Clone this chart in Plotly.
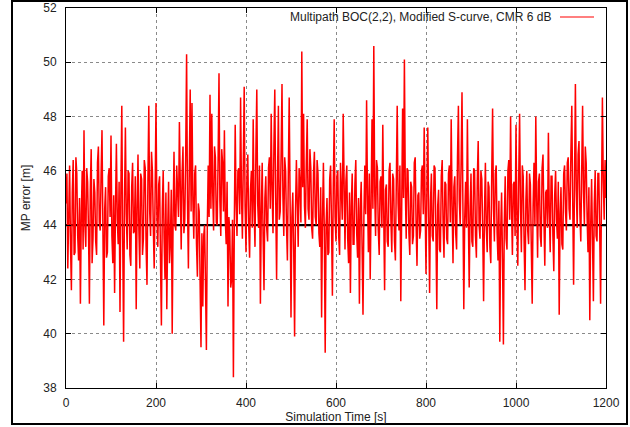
import plotly.graph_objects as go

# Simulation time step of the read-off samples [s]
time_step = 2

# MP error [m] (one value every 2 s, from t=0 to t=1200)
mp_error = [
    44.8, 45.9, 42.4, 44.1, 46.2, 43.3, 41.6, 45.2, 46.4, 42.9, 43.0, 46.5, 45.9, 43.6, 42.7, 45.0, 41.1, 44.4, 46.0, 43.1,
    47.5, 44.0, 43.2, 46.1, 45.6, 43.8, 41.1, 45.3, 46.8, 42.6, 43.5, 45.7, 45.2, 43.4, 42.9, 46.3, 46.9, 44.1, 43.8, 45.9,
    47.5, 43.9, 40.3, 44.6, 45.4, 42.8, 43.0, 45.8, 46.1, 44.3, 47.3, 43.6, 42.6, 45.1, 41.5, 44.7, 47.0, 44.2, 43.3, 45.6,
    40.8, 45.3, 48.4, 43.5, 39.7, 44.9, 47.6, 44.4, 43.1, 46.0, 45.9, 42.9, 42.5, 45.4, 46.3, 43.7, 43.8, 45.8, 40.9, 44.6,
    46.6, 43.8, 42.4, 45.9, 45.7, 42.9, 43.5, 46.4, 46.1, 43.2, 41.8, 45.6, 48.4, 44.5, 43.6, 46.7, 46.0, 43.9, 42.4, 45.1,
    48.5, 44.4, 43.2, 45.5, 45.8, 42.7, 40.3, 44.6, 46.0, 43.5, 42.0, 45.2, 40.9, 43.8, 45.6, 42.6, 43.4, 45.3, 40.0, 44.2,
    46.7, 44.0, 43.8, 46.2, 45.5, 44.3, 47.8, 44.7, 43.1, 45.9, 46.9, 43.7, 44.2, 46.6, 50.3, 44.8, 42.4, 46.1, 49.0, 44.5,
    48.5, 44.9, 43.5, 45.9, 46.2, 43.3, 42.1, 44.8, 44.5, 41.9, 39.5, 43.7, 41.0, 43.6, 44.0, 41.8, 39.4, 43.9, 46.2, 44.3,
    48.8, 44.6, 48.1, 45.2, 43.8, 46.9, 46.5, 44.1, 44.0, 46.4, 49.6, 44.9, 43.6, 46.8, 46.3, 44.5, 47.5, 44.2, 43.3, 45.6,
    41.0, 44.3, 43.8, 41.7, 42.0, 44.2, 38.4, 43.9, 47.7, 44.8, 43.6, 46.0, 46.1, 44.4, 48.7, 45.1, 43.5, 46.3, 49.1, 44.7,
    43.0, 45.7, 46.6, 44.0, 42.8, 45.3, 46.0, 43.9, 47.9, 44.6, 43.2, 46.7, 49.0, 44.8, 43.9, 46.2, 41.1, 44.5, 46.3, 43.6,
    41.6, 45.0, 45.8, 43.9, 43.4, 46.1, 46.5, 44.6, 48.1, 45.3, 43.7, 46.9, 49.0, 45.0, 42.0, 45.7, 48.4, 44.2, 44.5, 46.6,
    49.2, 45.1, 43.6, 46.5, 46.0, 44.0, 42.7, 45.8, 48.7, 44.9, 40.6, 44.3, 45.2, 43.1, 39.9, 44.5, 46.4, 44.8, 43.2, 46.1,
    45.5, 44.1, 50.4, 45.4, 48.1, 44.7, 43.9, 46.3, 47.9, 44.6, 44.2, 46.8, 46.1, 43.9, 43.5, 45.9, 46.7, 44.3, 44.0, 46.4,
    45.9, 43.7, 43.2, 45.4, 40.6, 44.2, 46.3, 43.8, 39.3, 44.0, 45.0, 42.9, 43.0, 45.7, 46.2, 44.1, 41.4, 45.5, 47.9, 44.3,
    43.4, 45.8, 46.0, 43.6, 42.9, 46.3, 45.4, 44.2, 48.1, 44.8, 43.1, 45.6, 46.2, 43.5, 42.6, 45.2, 41.5, 44.7, 45.9, 43.3,
    43.3, 45.5, 46.4, 43.7, 42.8, 45.0, 41.1, 44.6, 45.6, 43.2, 40.7, 44.3, 46.2, 44.4, 48.6, 45.1, 43.0, 45.9, 42.0, 44.8,
    47.9, 44.6, 50.6, 45.2, 43.6, 46.4, 46.1, 43.8, 42.9, 45.6, 45.8, 43.9, 47.7, 44.5, 41.6, 45.3, 45.5, 43.4, 43.2, 46.0,
    46.3, 44.2, 43.0, 45.9, 45.7, 43.4, 42.7, 45.5, 48.4, 44.8, 43.8, 46.2, 41.2, 44.6, 48.3, 45.0, 50.1, 45.4, 43.5, 46.1,
    46.0, 43.7, 42.9, 45.6, 45.4, 43.3, 43.6, 46.3, 46.5, 44.0, 42.5, 45.1, 45.2, 43.5, 43.8, 46.0, 46.2, 44.4, 47.6, 44.9,
    42.2, 45.3, 47.6, 44.3, 41.5, 44.9, 45.9, 43.6, 43.4, 46.2, 46.1, 43.8, 40.9, 44.7, 45.3, 43.1, 43.0, 45.8, 46.4, 44.0,
    42.8, 45.6, 45.5, 43.5, 43.3, 45.9, 46.2, 44.1, 47.9, 44.7, 42.6, 45.4, 45.8, 43.7, 43.1, 46.5, 48.4, 44.9, 44.0, 46.3,
    48.9, 44.8, 40.9, 44.2, 45.6, 43.9, 47.9, 44.5, 41.7, 44.6, 45.9, 43.4, 43.2, 46.1, 46.0, 43.6, 42.8, 45.7, 47.1, 44.0,
    43.5, 46.0, 45.7, 43.8, 41.2, 44.5, 46.3, 43.9, 43.0, 45.6, 45.4, 43.2, 42.6, 45.8, 48.3, 44.6, 43.4, 45.9, 46.2, 43.7,
    42.7, 44.9, 39.7, 43.8, 45.2, 42.8, 39.6, 44.1, 45.8, 43.5, 43.1, 46.0, 46.4, 44.2, 48.0, 44.7, 42.9, 45.5, 45.6, 43.6,
    47.7, 44.3, 42.5, 45.7, 48.1, 44.6, 43.0, 46.2, 45.8, 43.4, 41.6, 44.9, 46.0, 43.8, 43.3, 45.9, 45.5, 43.2, 41.1, 44.7,
    46.3, 44.0, 48.0, 44.9, 42.8, 45.6, 45.9, 43.6, 43.2, 46.1, 46.6, 44.3, 42.5, 45.2, 45.3, 43.9, 47.4, 44.5, 43.0, 45.8,
    45.8, 43.6, 42.3, 45.1, 46.0, 44.2, 43.5, 45.6, 40.7, 44.4, 45.4, 43.3, 43.1, 45.9, 46.2, 44.5, 43.8, 46.3, 46.5, 44.6,
    44.2, 46.7, 48.4, 45.0, 41.8, 45.5, 49.2, 45.3, 43.9, 46.6, 47.1, 44.4, 43.4, 46.0, 48.4, 45.2, 44.0, 46.9, 46.3, 44.3,
    43.0, 45.4, 40.5, 44.0, 45.7, 43.5, 41.2, 44.8, 46.0, 43.6, 43.4, 45.9, 45.9, 43.8, 41.1, 45.1, 48.7, 45.6, 44.2, 46.4,
    45.0,
]
sim_time = [i * time_step for i in range(len(mp_error))]

# Reference (true) level [m]
ref_time = [0, 1200]
ref_level = [44.0, 44.0]

legend_label = "Multipath BOC(2,2), Modified S-curve, CMR 6 dB"
x_ticks = [0, 200, 400, 600, 800, 1000, 1200]
y_ticks = [38, 40, 42, 44, 46, 48, 50, 52]

FONT = "Liberation Sans, Arial, Helvetica, sans-serif"

fig = go.Figure()
fig.add_trace(go.Scatter(
    x=ref_time, y=ref_level, mode="lines",
    line=dict(color="#000000", width=2.2),
    showlegend=False,
))
fig.add_trace(go.Scatter(
    x=sim_time, y=mp_error, mode="lines",
    line=dict(color="#ff0000", width=1.5),
    name=legend_label, showlegend=False,
))

L, R, T, B = 66, 24, 8, 39
W, H = 630, 427
pw, ph = W - L - R, H - T - B

def px(x):
    return (x - L) / pw

def py(y):
    return (H - B - y) / ph

axis_common = dict(
    showline=True, linecolor="#000000", linewidth=1, mirror="ticks",
    ticks="inside", ticklen=5, tickcolor="#000000",
    showgrid=True, gridcolor="#8a8a8a", griddash="dot", gridwidth=1,
    zeroline=False, automargin=False,
    tickfont=dict(family=FONT, size=12, color="#222222"),
)

fig.update_layout(
    width=W, height=H,
    margin=dict(l=L, r=R, t=T, b=B, autoexpand=False),
    paper_bgcolor="#ffffff", plot_bgcolor="#ffffff",
    font=dict(family=FONT, size=12, color="#000000"),
    xaxis=dict(
        range=[0, 1200], tickvals=x_ticks, ticklabelstandoff=4,
        title=dict(text="Simulation Time [s]", standoff=2,
                   font=dict(family=FONT, size=12, color="#222222")),
        **axis_common,
    ),
    yaxis=dict(
        range=[38, 52], tickvals=y_ticks, ticklabelstandoff=6,
        title=dict(text="MP error [m]", standoff=10,
                   font=dict(family=FONT, size=12, color="#222222")),
        **axis_common,
    ),
    showlegend=False,
    annotations=[dict(
        xref="paper", yref="paper", x=px(553), y=py(17),
        xanchor="right", yanchor="middle", showarrow=False,
        text=legend_label, font=dict(family=FONT, size=12, color="#222222"),
    )],
    shapes=[
        dict(type="line", xref="paper", yref="paper",
             x0=px(560), x1=px(594), y0=py(17), y1=py(17),
             line=dict(color="#ff0000", width=1.2)),
        dict(type="rect", xref="paper", yref="paper",
             x0=px(12), x1=px(627), y0=py(424), y1=py(1),
             line=dict(color="#000000", width=2), fillcolor="rgba(0,0,0,0)"),
    ],
)

fig.write_html("out.html")
